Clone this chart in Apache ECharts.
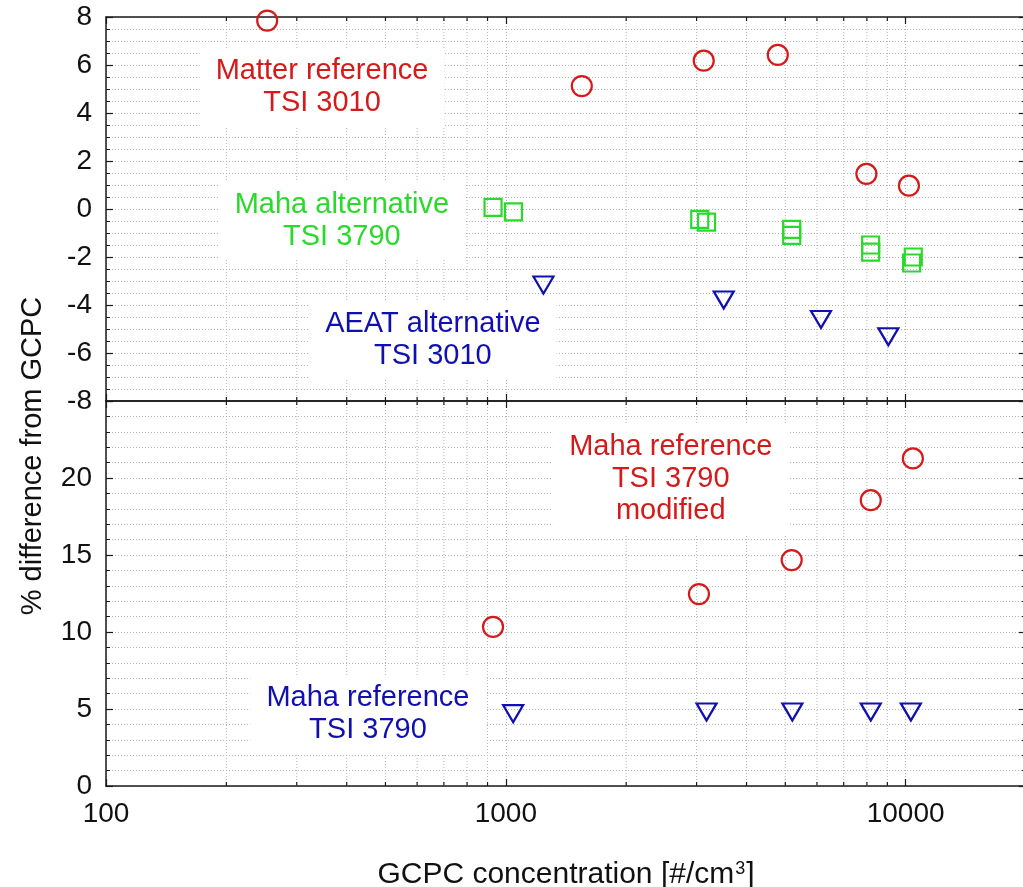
<!DOCTYPE html>
<html><head><meta charset="utf-8">
<script src="https://cdn.jsdelivr.net/npm/echarts@6/dist/echarts.min.js"></script>
<style>html,body{margin:0;padding:0;background:#fff}#c{width:1023px;height:887px}</style>
</head><body><div id="c"></div>
<script>
// ---- data (top panel) ----
const matterX = [253, 1549, 3126, 4789, 7977, 10191];
const matterY = [7.85, 5.12, 6.18, 6.42, 1.46, 0.97];
const mahaAltX = [929, 1045, 3055, 3177, 5188, 5188, 8175, 8175, 10450, 10350];
const mahaAltY = [0.07, -0.12, -0.43, -0.55, -0.85, -1.1, -1.5, -1.8, -2.0, -2.25];
const aeatX = [1242, 3508, 6141, 9052];
const aeatY = [-3.17, -3.79, -4.6, -5.32];
// ---- data (bottom panel) ----
const mahaRefModX = [929, 3041, 5188, 8181, 10424];
const mahaRefModY = [10.33, 12.46, 14.67, 18.56, 21.27];
const mahaRefX = [1043, 3177, 5208, 8181, 10305];
const mahaRefY = [4.7, 4.81, 4.81, 4.81, 4.81];
// ---- ticks ----
const xMinorTicks = [200,300,400,500,600,700,800,900,2000,3000,4000,5000,6000,7000,8000,9000,20000];
// ---- annotations (data coordinates) ----
const annTop = [
  {text: 'Matter reference\nTSI 3010', x: 347, y: 5.08, c: 'red'},
  {text: 'Maha alternative\nTSI 3790', x: 389, y: -0.5, c: 'green'},
  {text: 'AEAT alternative\nTSI 3010', x: 657, y: -5.46, c: 'blue'}
];
const annBot = [
  {text: 'Maha reference\nTSI 3790\nmodified', x: 2585, y: 19.93, c: 'red'},
  {text: 'Maha reference\nTSI 3790', x: 452, y: 4.66, c: 'blue'}
];

const COL = {red: '#d41a1a', green: '#2ada2a', blue: '#1010b0'};
const FONT = '"Liberation Sans", Arial, sans-serif';
const INK = '#1a1a1a';
const GRIDC = '#b5b5b5';
const zip = (a, b) => a.map((v, i) => [v, b[i]]);

function xAx(gridIndex, position, showLabel, split) {
  return {
    type: 'log', logBase: 10, gridIndex, position, min: 100, max: 20000,
    axisLine: {show: true, onZero: false, lineStyle: {color: INK, width: 1.5}},
    axisTick: {show: true, inside: true, length: 7, lineStyle: {color: INK, width: 1.2}},
    axisLabel: {show: showLabel, fontSize: 28, fontFamily: FONT, color: '#111', margin: 14,
      showMaxLabel: false, formatter: v => String(Math.round(v))},
    splitLine: {show: split, lineStyle: {color: GRIDC, type: [1, 2], width: 1}}
  };
}
function yAx(gridIndex, position, min, max, interval, minorSplit, showLabel, hideVal) {
  return {
    type: 'value', gridIndex, position, min, max, interval,
    axisLine: {show: true, onZero: false, lineStyle: {color: INK, width: 1.5}},
    axisTick: {show: true, inside: true, length: 7, lineStyle: {color: INK, width: 1.2}},
    minorTick: {show: true, splitNumber: minorSplit, length: 4, lineStyle: {color: INK, width: 1}},
    axisLabel: {show: showLabel, fontSize: 28, fontFamily: FONT, color: '#111', margin: 14,
      formatter: v => (v === hideVal ? '' : String(v))},
    splitLine: {show: showLabel, lineStyle: {color: GRIDC, type: [1, 2], width: 1}},
    minorSplitLine: {show: showLabel, lineStyle: {color: GRIDC, type: [1, 2], width: 1}}
  };
}
function minorX(xAxisIndex, yAxisIndex, yRef) {
  return {
    type: 'custom', xAxisIndex, yAxisIndex, silent: true, z: 1,
    data: xMinorTicks.map(v => [v, yRef]),
    renderItem(params, api) {
      const cs = params.coordSys;
      const x = api.coord([api.value(0), api.value(1)])[0];
      const top = cs.y, bot = cs.y + cs.height;
      return {type: 'group', children: [
        {type: 'line', shape: {x1: x, y1: top, x2: x, y2: bot}, style: {stroke: GRIDC, lineWidth: 1, lineDash: [1, 2]}},
        {type: 'line', shape: {x1: x, y1: bot, x2: x, y2: bot - 4}, style: {stroke: INK, lineWidth: 1.2}},
        {type: 'line', shape: {x1: x, y1: top, x2: x, y2: top + 4}, style: {stroke: INK, lineWidth: 1.2}}
      ]};
    }
  };
}
function annSeries(xAxisIndex, yAxisIndex, list) {
  return {
    type: 'scatter', xAxisIndex, yAxisIndex, silent: true, z: 3, symbolSize: 1,
    itemStyle: {color: 'rgba(0,0,0,0)', opacity: 1},
    data: list.map(a => ({value: [a.x, a.y], label: {formatter: a.text, color: COL[a.c]}})),
    label: {show: true, position: 'inside', fontSize: 29, fontFamily: FONT, lineHeight: 32,
      backgroundColor: '#fff', padding: [7, 16], align: 'center', verticalAlign: 'middle'}
  };
}
function pts(xAxisIndex, yAxisIndex, xs, ys, symbol, size, color, rotate) {
  return {
    type: 'scatter', xAxisIndex, yAxisIndex, z: 5, symbol, symbolSize: size, symbolRotate: rotate || 0,
    itemStyle: {color: 'rgba(0,0,0,0)', borderColor: color, borderWidth: 2.2, opacity: 1},
    data: zip(xs, ys)
  };
}

const chart = echarts.init(document.getElementById('c'), null, {renderer: 'canvas'});
chart.setOption({
  animation: false,
  backgroundColor: '#fff',
  grid: [
    {left: 106, top: 17, width: 920, height: 384, containLabel: false, outerBoundsMode: 'none'},
    {left: 106, top: 401, width: 920, height: 385, containLabel: false, outerBoundsMode: 'none'}
  ],
  xAxis: [
    xAx(0, 'bottom', false, true),
    xAx(0, 'top', false, false),
    Object.assign(xAx(1, 'bottom', true, true), {
      name: '{a|GCPC concentration [#/cm}{s|3}{a|]}', nameLocation: 'middle', nameGap: 74,
      nameTextStyle: {rich: {
        a: {fontSize: 30, fontFamily: FONT, color: '#111'},
        s: {fontSize: 18, fontFamily: FONT, color: '#111', verticalAlign: 'top', padding: [0, 1, 12, 1]}
      }}
    }),
    xAx(1, 'top', false, false)
  ],
  yAxis: [
    yAx(0, 'left', -8, 8, 2, 4, true, null),
    yAx(0, 'right', -8, 8, 2, 4, false, null),
    yAx(1, 'left', 0, 25, 5, 5, true, 25),
    yAx(1, 'right', 0, 25, 5, 5, false, 25)
  ],
  graphic: [{
    type: 'text', x: 33, y: 456, rotation: Math.PI / 2,
    style: {text: '% difference from GCPC', font: '29px "Liberation Sans", Arial, sans-serif',
      fill: '#111', align: 'center', verticalAlign: 'middle'}
  }],
  series: [
    minorX(0, 0, 0),
    minorX(2, 2, 10),
    annSeries(0, 0, annTop),
    annSeries(2, 2, annBot),
    pts(0, 0, matterX, matterY, 'circle', 20, COL.red),
    pts(0, 0, mahaAltX, mahaAltY, 'rect', 17, COL.green),
    pts(0, 0, aeatX, aeatY, 'triangle', [20, 17], COL.blue, 180),
    pts(2, 2, mahaRefModX, mahaRefModY, 'circle', 20, COL.red),
    pts(2, 2, mahaRefX, mahaRefY, 'triangle', [20, 17], COL.blue, 180)
  ]
});
</script></body></html>
